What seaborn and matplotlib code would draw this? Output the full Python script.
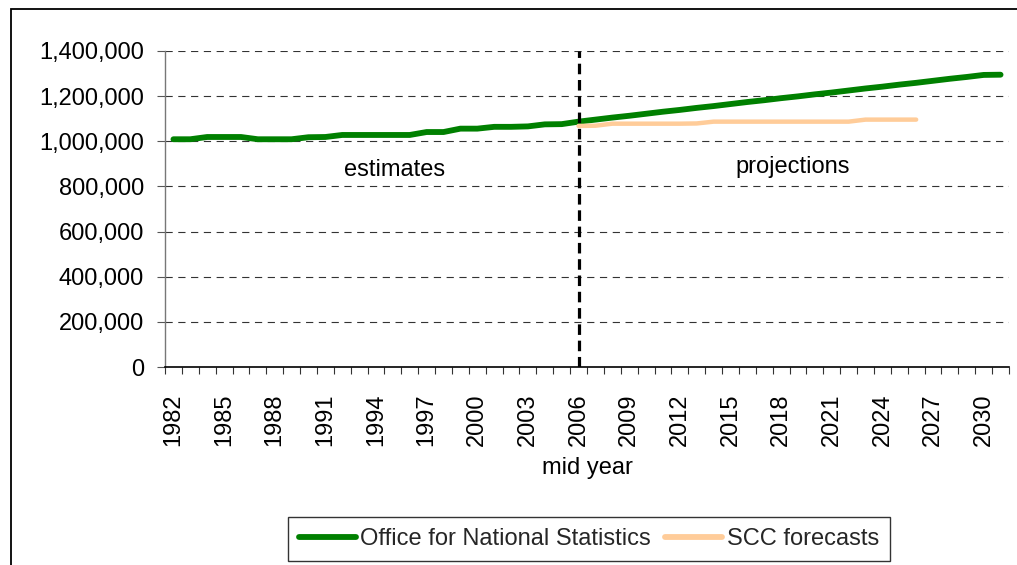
import matplotlib
matplotlib.use("Agg")
import matplotlib.pyplot as plt
from matplotlib.patches import Rectangle
from matplotlib.ticker import FuncFormatter, FixedLocator
import seaborn as sns
import pandas as pd
import numpy as np

# ---- data ----
ons_years = list(range(1982, 2032))
ons_values = [
    1009000, 1009000, 1019000, 1019000, 1019000, 1009000, 1009000, 1009000,
    1018000, 1019000, 1028000, 1028000, 1028000, 1028000, 1028000, 1041000,
    1041000, 1056000, 1056000, 1064000, 1064000, 1066000, 1075000, 1076000,
    1087000, 1096000, 1105000, 1113000, 1122000, 1131000, 1139000, 1148000,
    1156000, 1165000, 1174000, 1182000, 1191000, 1199000, 1208000, 1216000,
    1225000, 1234000, 1242000, 1251000, 1259000, 1268000, 1277000, 1285000,
    1294000, 1295000,
]
scc_years = list(range(2006, 2027))
scc_values = [
    1068000, 1069000, 1078000, 1078000, 1078000, 1078000, 1078000, 1079000,
    1087000, 1087000, 1087000, 1087000, 1087000, 1087000, 1087000, 1087000,
    1087000, 1096000, 1096000, 1096000, 1096000,
]
tick_years = list(range(1982, 2031, 3))
y_ticks = [0, 200000, 400000, 600000, 800000, 1000000, 1200000, 1400000]
series_names = ["Office for National Statistics", "SCC forecasts"]
series_colors = ["#008000", "#FFCC99"]
divider_year = 2006
annotations = [("estimates", 1995.1, 875000), ("projections", 2018.7, 885000)]

sns.set_theme(style="white")
plt.rcParams["font.family"] = ["Liberation Sans", "DejaVu Sans"]

fig = plt.figure(figsize=(10.17, 5.65), dpi=100)
ax = fig.add_axes([165 / 1017, 1 - 367 / 565, (1009 - 165) / 1017, (367 - 51) / 565])

df_ons = pd.DataFrame({"year": ons_years, "value": ons_values})
df_scc = pd.DataFrame({"year": scc_years, "value": scc_values})

sns.lineplot(data=df_ons, x="year", y="value", ax=ax, color=series_colors[0],
             linewidth=4.2, label=series_names[0], solid_capstyle="round", zorder=3)
sns.lineplot(data=df_scc, x="year", y="value", ax=ax, color=series_colors[1],
             linewidth=3.2, label=series_names[1], solid_capstyle="round", zorder=4)

ax.set_xlim(1981.5, 2031.5)
ax.set_ylim(0, 1400000)

# grid
for yv in y_ticks[1:]:
    ax.axhline(yv, color="#333333", linewidth=0.8, linestyle=(0, (6.5, 5)), zorder=1)

ax.axvline(divider_year, color="black", linewidth=2.3, linestyle=(0, (3.3, 1.8)), zorder=5)

for txt, xv, yv in annotations:
    ax.text(xv, yv, txt, ha="center", va="center", fontsize=17, color="black")

# axes
ax.set_yticks(y_ticks)
ax.yaxis.set_major_formatter(FuncFormatter(lambda v, p: f"{int(v):,}"))
ax.tick_params(axis="y", which="major", direction="out", length=6, width=0.8,
               color="#555555", pad=9, labelsize=17, left=True, labelcolor="black")

ax.xaxis.set_major_locator(FixedLocator(tick_years))
ax.set_xticklabels([str(y) for y in tick_years], rotation=90)
ax.xaxis.set_minor_locator(FixedLocator(np.arange(1981.5, 2032, 1.0)))
ax.tick_params(axis="x", which="major", length=0, pad=19, labelsize=17, labelcolor="black")
ax.tick_params(axis="x", which="minor", direction="out", length=5, width=0.8,
               color="#333333", bottom=True)

ax.set_xlabel("mid year", fontsize=17, labelpad=8, color="black")
ax.set_ylabel("")

for s in ["top", "right"]:
    ax.spines[s].set_visible(False)
ax.spines["left"].set_color("#777777")
ax.spines["left"].set_linewidth(1.0)
ax.spines["bottom"].set_color("black")
ax.spines["bottom"].set_linewidth(1.2)
ax.set_facecolor("white")

leg = ax.legend(loc="center", bbox_to_anchor=(589 / 1017, 1 - 539 / 565),
                bbox_transform=fig.transFigure, ncol=2, fontsize=17, frameon=True,
                fancybox=False, edgecolor="black", handlelength=2.4,
                handletextpad=0.2, columnspacing=0.6, borderpad=0.45, borderaxespad=0)
leg.get_frame().set_linewidth(1.0)
for line in leg.get_lines():
    line.set_solid_capstyle("round")
    line.set_linewidth(4.2)

fig.add_artist(Rectangle((11 / 1017, -0.2), 1.2, 1.2 - 9 / 565, transform=fig.transFigure,
                         fill=False, edgecolor="black", linewidth=1.3))

fig.savefig("out.png", dpi=100, facecolor="white")
